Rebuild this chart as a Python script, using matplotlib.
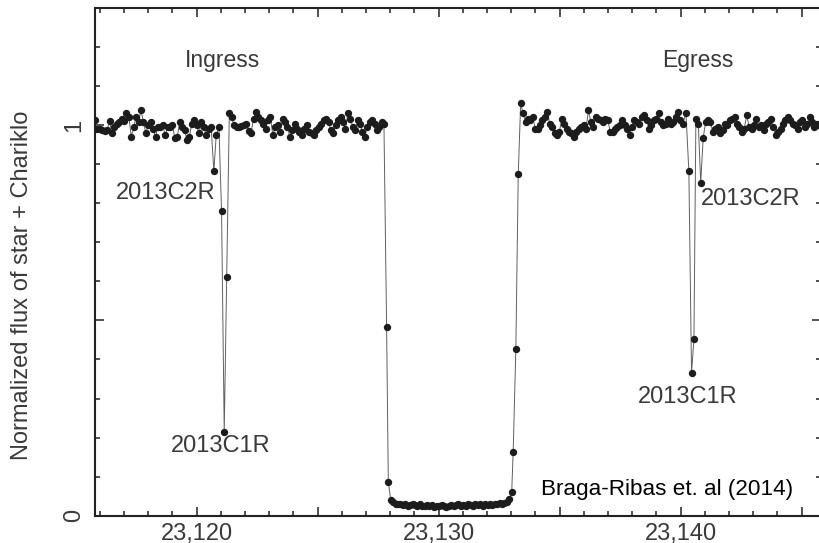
import numpy as np
import matplotlib
matplotlib.use('Agg')
import matplotlib.pyplot as plt
from matplotlib.ticker import MultipleLocator, FixedLocator, FixedFormatter, FuncFormatter

plt.rcParams['font.family'] = ['Liberation Sans', 'DejaVu Sans']

cadence = 0.1  # s, sampling of the light curve

# baseline before the ring events (ingress side)
start_a = 23115.8
flux_a = [1.013, 0.991, 0.990, 0.987, 0.985, 0.987, 1.010, 0.979, 0.996, 1.004,
          1.008, 1.017, 1.010, 1.030, 1.021, 0.970, 0.996, 1.021, 1.008, 1.038,
          1.008, 0.979, 1.000, 1.008, 0.990, 0.970, 0.996, 0.996, 1.000, 0.974,
          0.996, 0.996, 1.000, 0.966, 0.970, 1.008, 0.996, 0.987, 0.961, 0.970,
          1.004, 1.013, 1.000, 0.979, 1.008, 0.996, 0.974, 0.991, 0.996]

# ring ingress (2013C2R, then 2013C1R)
time_rings_in = [23120.71, 23120.81, 23120.92, 23121.03, 23121.14, 23121.24, 23121.35, 23121.45]
flux_rings_in = [0.882, 0.975, 0.996, 0.780, 0.215, 0.610, 1.030, 1.020]

# baseline between rings and Chariklo
start_b = 23121.55
flux_b = [1.000, 0.996, 0.996, 0.998, 1.000, 1.002, 0.985, 0.979, 1.017, 1.034,
          1.021, 1.013, 1.004, 0.991, 1.013, 1.021, 0.974, 0.996, 1.000, 0.983,
          1.017, 1.008, 0.996, 0.970, 0.987, 1.004, 0.991, 0.983, 0.974, 0.991,
          1.000, 0.983, 0.979, 0.974, 0.987, 0.996, 1.004, 1.013, 1.017, 1.008,
          0.987, 0.979, 1.000, 1.013, 1.021, 1.008, 0.991, 1.030, 1.017, 0.996,
          0.987, 1.013, 1.004, 0.983, 0.970, 0.996, 1.008, 1.013, 1.004, 0.987,
          0.996, 1.008]

time_ingress = [23127.74, 23127.85, 23127.92]
flux_ingress = [1.002, 0.483, 0.087]

# body occultation
start_c = 23128.02
flux_c = [0.040, 0.034, 0.030, 0.029, 0.031, 0.027, 0.029, 0.026, 0.028, 0.030,
          0.027, 0.025, 0.029, 0.026, 0.024, 0.027, 0.025, 0.028, 0.023, 0.026,
          0.024, 0.027, 0.025, 0.023, 0.026, 0.028, 0.024, 0.027, 0.029, 0.025,
          0.028, 0.026, 0.030, 0.027, 0.025, 0.029, 0.027, 0.031, 0.026, 0.029,
          0.028, 0.030, 0.027, 0.031, 0.029, 0.032, 0.030, 0.033, 0.035, 0.043]

time_egress = [23133.02, 23133.08, 23133.19, 23133.29, 23133.39]
flux_egress = [0.061, 0.164, 0.426, 0.876, 1.056]

start_d = 23133.49
flux_d = [1.030, 1.008, 1.017, 1.013, 1.021, 0.991, 0.991, 1.000, 1.013, 1.021,
          1.034, 1.004, 0.996, 0.979, 0.974, 0.983, 1.017, 1.004, 0.991, 0.983,
          0.979, 0.970, 0.983, 0.991, 0.996, 1.000, 0.991, 1.038, 1.008, 0.996,
          1.021, 1.017, 1.013, 1.008, 1.017, 1.013, 0.983, 0.983, 0.991, 0.996,
          1.000, 1.013, 1.000, 0.991, 0.974, 0.996, 1.013, 1.008, 1.004, 1.021,
          1.026, 1.013, 0.991, 1.000, 1.013, 1.017, 1.030, 1.008, 1.000, 1.004,
          1.017, 1.004, 1.008, 1.021, 1.034, 1.013, 1.004]

# ring egress (2013C1R, then 2013C2R)
time_rings_out = [23140.22, 23140.34, 23140.45, 23140.55, 23140.63, 23140.73, 23140.83, 23140.93, 23141.03]
flux_rings_out = [1.030, 0.882, 0.366, 0.452, 1.017, 1.004, 0.852, 0.966, 1.008]

start_e = 23141.13
flux_e = [1.013, 1.008, 0.983, 0.991, 0.996, 0.979, 0.987, 1.004, 1.000, 1.013,
          1.017, 1.021, 1.004, 0.996, 0.983, 0.991, 1.026, 0.996, 0.991, 1.000,
          1.017, 0.996, 1.000, 0.987, 1.004, 1.008, 1.017, 0.996, 0.974, 0.983,
          0.991, 1.004, 1.013, 1.021, 1.013, 1.004, 1.000, 0.991, 1.008, 1.013,
          0.996, 1.004, 1.021, 1.008, 0.996, 1.004, 1.000, 0.991]


def seg_times(start, flux):
    return list(start + cadence * np.arange(len(flux)))


time = (seg_times(start_a, flux_a) + time_rings_in + seg_times(start_b, flux_b)
        + time_ingress + seg_times(start_c, flux_c) + time_egress
        + seg_times(start_d, flux_d) + time_rings_out + seg_times(start_e, flux_e))
flux = (flux_a + flux_rings_in + flux_b + flux_ingress + flux_c + flux_egress
        + flux_d + flux_rings_out + flux_e)

txt = '#3a3a3a'

fig = plt.figure(figsize=(8.2, 5.43), dpi=100)
ax = fig.add_axes([95 / 820, 27.3 / 543, 726 / 820, 507.7 / 543])

ax.plot(time, flux, '-', color='#606060', lw=0.7, zorder=2)
ax.plot(time, flux, 'o', color='#1c1c1c', ms=5.3, mec='none', zorder=3)

ax.set_xlim(23115.8, 23145.8)
ax.set_ylim(0, 1.30)

ax.xaxis.set_major_locator(MultipleLocator(5))
ax.xaxis.set_minor_locator(MultipleLocator(1))
ax.xaxis.set_major_formatter(FuncFormatter(lambda v, p: f'{v:,.0f}' if v % 10 == 0 else ''))
ax.yaxis.set_major_locator(FixedLocator([0, 0.5, 1.0]))
ax.yaxis.set_major_formatter(FixedFormatter(['0', '', '1']))
ax.yaxis.set_minor_locator(MultipleLocator(0.1))

ax.tick_params(which='both', direction='in', top=True, right=True, colors='#222222',
               labelcolor=txt, labelsize=17, width=1.1)
ax.tick_params(which='major', length=6.5)
ax.tick_params(which='minor', length=3.5)
ax.tick_params(axis='x', pad=5)
ax.tick_params(axis='y', pad=7)
for lab in ax.get_yticklabels():
    lab.set_rotation(90)
    lab.set_va('center')
for s in ax.spines.values():
    s.set_linewidth(1.5)
    s.set_color('#222222')

ax.set_ylabel('Normalized flux of star + Chariklo', fontsize=17, color=txt)
ax.yaxis.set_label_coords(-0.085, 0.454)

ax.text(23121.05, 1.166, 'Ingress', fontsize=16.5, color=txt, ha='center', va='center')
ax.text(23140.70, 1.166, 'Egress', fontsize=16.5, color=txt, ha='center', va='center')
ax.text(23118.73, 0.826, '2013C2R', fontsize=17, color=txt, ha='center', va='center')
ax.text(23121.0, 0.179, '2013C1R', fontsize=17, color=txt, ha='center', va='center')
ax.text(23142.89, 0.811, '2013C2R', fontsize=17, color=txt, ha='center', va='center')
ax.text(23140.31, 0.305, '2013C1R', fontsize=17, color=txt, ha='center', va='center')
ax.text(23139.42, 0.066, 'Braga-Ribas et. al (2014)', fontsize=16.2, color='black',
        ha='center', va='center')

plt.savefig('out.png', dpi=100)
